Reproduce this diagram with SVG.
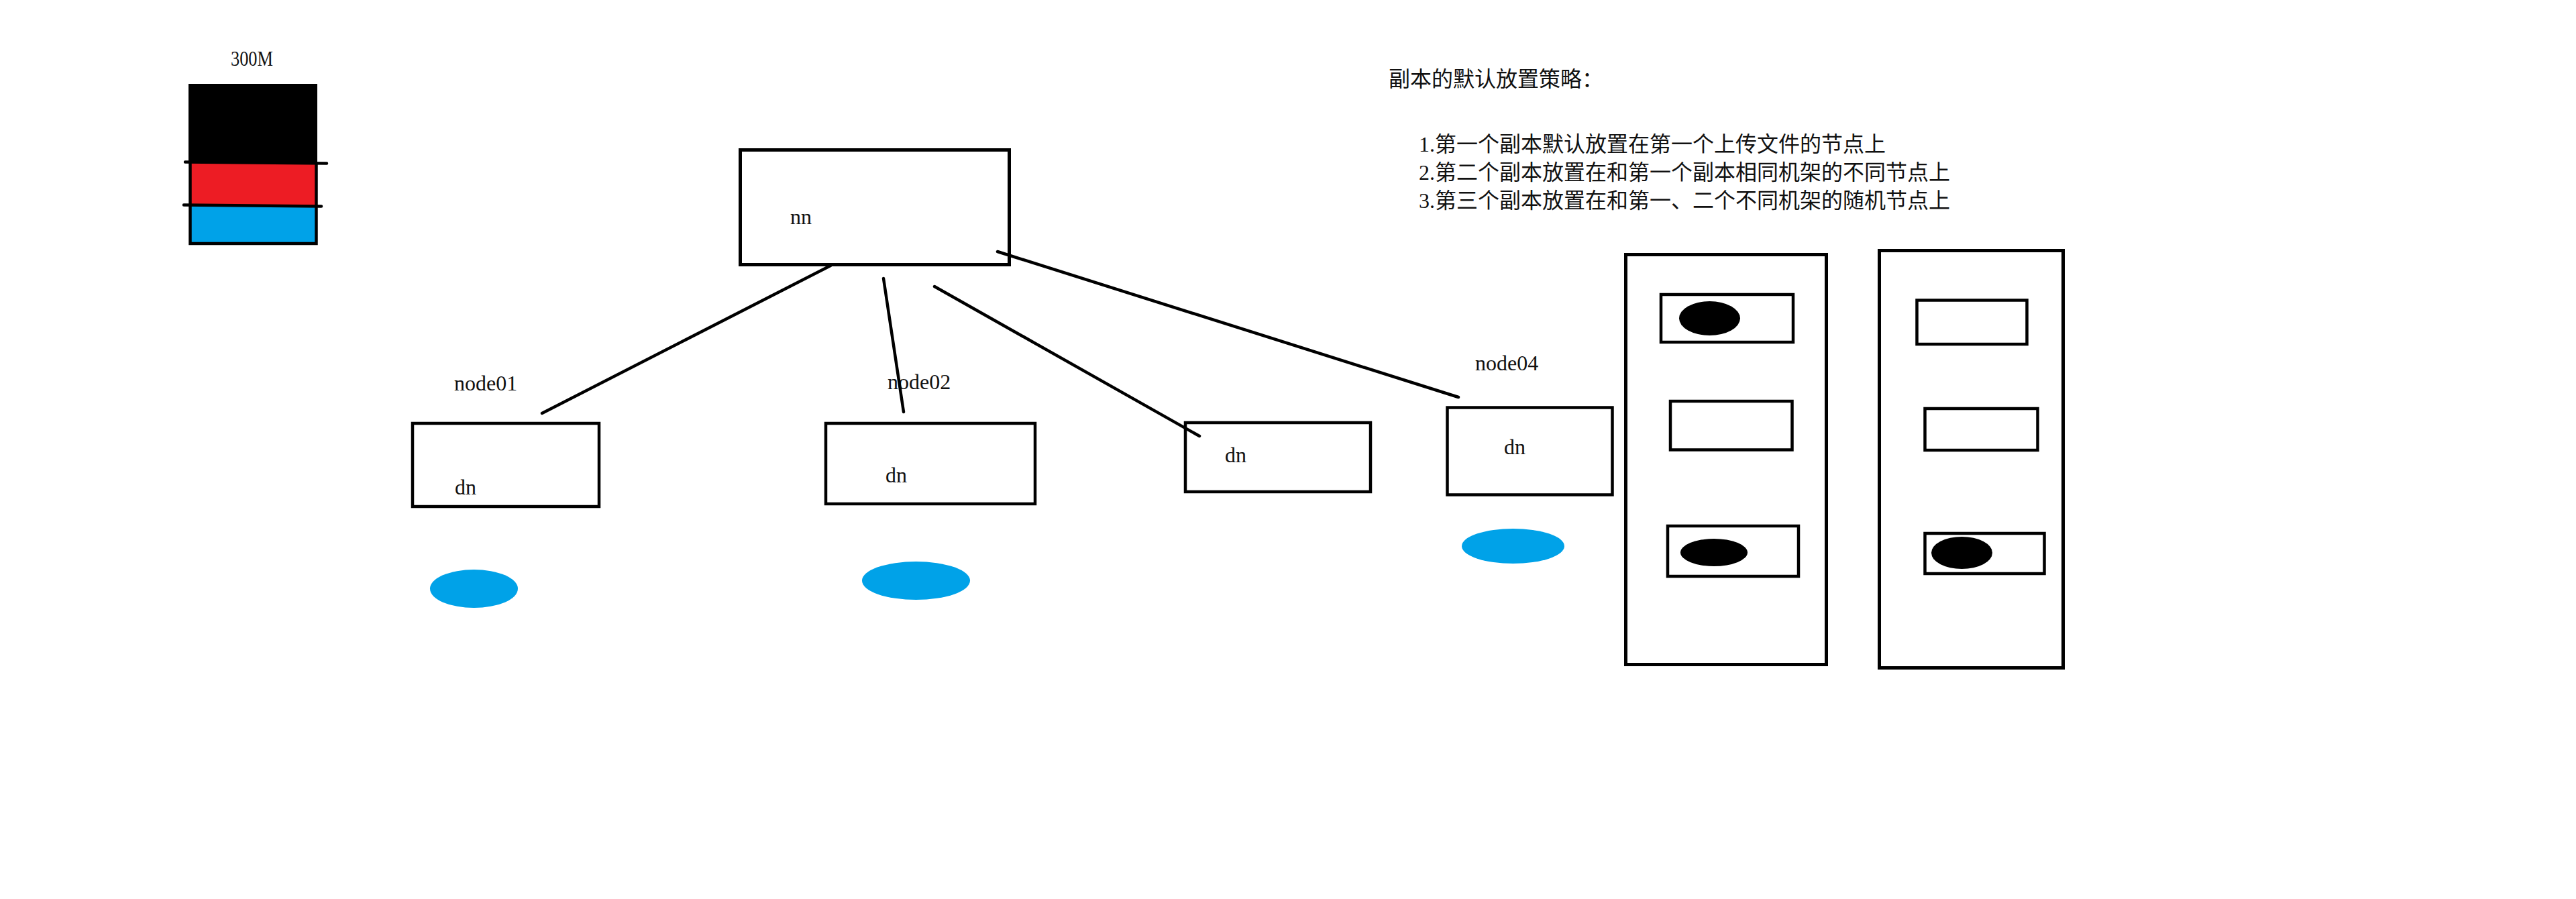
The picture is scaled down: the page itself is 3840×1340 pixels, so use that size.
<svg xmlns="http://www.w3.org/2000/svg" width="3840" height="1340" viewBox="0 0 3840 1340">
<style>
.t{font-family:"Liberation Serif","Noto Sans CJK SC",serif;font-size:32px;fill:#111}
.c{font-family:"Liberation Serif","Noto Sans CJK SC",serif;font-size:32px;fill:#111}
.box{fill:none;stroke:#000;stroke-width:4.5}
.rack{fill:none;stroke:#000;stroke-width:5}
.ln{stroke:#000;stroke-width:4.5;stroke-linecap:round;fill:none}
.blue{fill:#00a2e8}
</style>
<rect width="3840" height="1340" fill="#fff"/>
<g id="file">
<text class="t" x="344" y="98" textLength="63" lengthAdjust="spacingAndGlyphs">300M</text>
<rect x="281" y="125" width="192" height="119" fill="#000"/>
<rect x="283.5" y="243" width="188" height="63" fill="#ed1c24"/>
<rect x="283.5" y="306" width="188" height="57" fill="#00a2e8"/>
<path class="ln" d="M283.5 243 V363 H471.5 V243"/>
<line class="ln" x1="276" y1="241.5" x2="487" y2="243.5"/>
<line class="ln" x1="274" y1="305.5" x2="479" y2="307.5"/>
</g>
<g id="nn">
<rect x="1103.5" y="223.5" width="401" height="171" fill="none" stroke="#000" stroke-width="5"/>
<text class="t" x="1178" y="334">nn</text>
</g>
<g id="node01">
<text class="t" x="677" y="582">node01</text>
<rect class="box" x="615" y="631" width="278" height="124"/>
<text class="t" x="678" y="737">dn</text>
<ellipse class="blue" cx="706.5" cy="877.5" rx="65.5" ry="28.5"/>
</g>
<g id="node02">
<text class="t" x="1323" y="580">node02</text>
<rect class="box" x="1231" y="631" width="312" height="120"/>
<text class="t" x="1320" y="719">dn</text>
<ellipse class="blue" cx="1365.5" cy="865.5" rx="80.5" ry="28.5"/>
</g>
<g id="node03">
<rect class="box" x="1767" y="630" width="276" height="103"/>
<text class="t" x="1826" y="689">dn</text>
</g>
<g id="node04">
<text class="t" x="2199" y="552">node04</text>
<rect class="box" x="2157.5" y="607.5" width="246" height="130"/>
<text class="t" x="2242" y="677">dn</text>
<ellipse class="blue" cx="2255.5" cy="814" rx="76.5" ry="26"/>
</g>
<g id="connectors">
<line class="ln" x1="1238" y1="396" x2="808" y2="616"/>
<line class="ln" x1="1317" y1="415" x2="1347" y2="614"/>
<line class="ln" x1="1393" y1="427" x2="1788" y2="650"/>
<line class="ln" x1="1487" y1="375" x2="2174" y2="592"/>
</g>
<g id="policy">
<text class="c" x="2070" y="129">副本的默认放置策略：</text>
<text class="c" x="2115" y="226">1.第一个副本默认放置在第一个上传文件的节点上</text>
<text class="c" x="2115" y="268">2.第二个副本放置在和第一个副本相同机架的不同节点上</text>
<text class="c" x="2115" y="310">3.第三个副本放置在和第一、二个不同机架的随机节点上</text>
</g>
<g id="rack1">
<rect class="rack" x="2423.5" y="379.5" width="299" height="611"/>
<rect class="box" x="2476" y="439" width="197" height="71"/>
<ellipse cx="2548.5" cy="474.5" rx="45.5" ry="25.5" fill="#000"/>
<rect class="box" x="2490" y="598" width="181.5" height="72.5"/>
<rect class="box" x="2486" y="784" width="195" height="75"/>
<ellipse cx="2555" cy="823.5" rx="50" ry="20.5" fill="#000"/>
</g>
<g id="rack2">
<rect class="rack" x="2801.5" y="373.5" width="274" height="622"/>
<rect class="box" x="2857.5" y="447.5" width="164" height="65.5"/>
<rect class="box" x="2869.5" y="609" width="168" height="62"/>
<rect class="box" x="2869.5" y="795" width="178" height="60"/>
<ellipse cx="2924.5" cy="824" rx="45.5" ry="24" fill="#000"/>
</g>
</svg>
